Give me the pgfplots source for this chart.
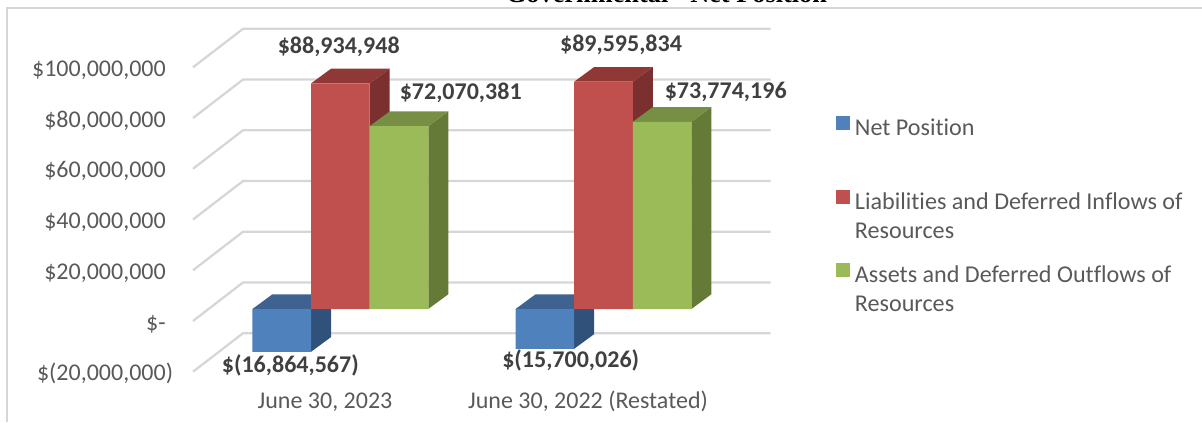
\documentclass[border=0pt]{standalone}
\usepackage{fontspec}
\setmainfont{Carlito}[Ligatures=NoCommon]
\newfontfamily\titlefont{Liberation Serif}
\usepackage{pgfplots}
\pgfplotsset{compat=1.18}
\definecolor{gridc}{HTML}{D6D6D6}
\definecolor{tickc}{HTML}{595959}
\definecolor{lblc}{HTML}{404040}
\definecolor{bluef}{HTML}{4F81BD}\definecolor{bluet}{HTML}{3E6390}\definecolor{blues}{HTML}{30527A}
\definecolor{redf}{HTML}{C0504D}\definecolor{redt}{HTML}{8F3836}\definecolor{reds}{HTML}{7B2F2E}
\definecolor{greenf}{HTML}{9BBB59}\definecolor{greent}{HTML}{768F44}\definecolor{greens}{HTML}{667A37}
\newcommand{\bigfont}{\fontsize{18}{21.75}\selectfont}
\pgfplotsset{
  page/.style={width=901.5pt,height=316.5pt,scale only axis,at={(0pt,0pt)},anchor=south west,
    xmin=0,xmax=1202,clip=false,scaled y ticks=false},
  face/.style={draw=none,fill=#1,forget plot,mark=none},
  bar3d/.style={ybar,bar width=58.6,bar shift=0pt,fill=#1,draw=none,
    legend image code/.code={\fill[#1] (0pt,-1.3pt) rectangle (10.5pt,9.2pt);}},
  gline/.style={draw=gridc,line width=1.7pt,mark=none,forget plot}
}
\begin{document}
\begin{tikzpicture}
\path[use as bounding box,clip] (0pt,0pt) rectangle (901.5pt,316.5pt);
% frame, wall grid and axis labels: y measured on the front edge of the floor
\begin{axis}[page,
  ymin=-39815000,ymax=126540000,
  axis line style={draw=none},tick style={draw=none},major tick length=0pt,
  tick label style={font=\bigfont,text=tickc},
  ytick pos=left,xtick pos=bottom,
  ytick={-20000000,0,20000000,40000000,60000000,80000000,100000000},
  yticklabels={{\$(20,000,000\rlap{)}},{\$-},{\$20,000,000},{\$40,000,000},{\$60,000,000},{\$80,000,000},{\$100,000,000}},
  yticklabel style={anchor=base east,xshift=124.5pt,yshift=-6.75pt,inner sep=0pt},
  xtick={325,588},
  xticklabels={{June 30, 2023},{June 30, 2022 (Restated)}},
  xticklabel style={anchor=base,yshift=10.3pt,inner sep=0pt},
  ]
\draw[gridc,line width=1.4pt] (axis cs:7,-39815000)--(axis cs:7,123390000)--(axis cs:1202,123390000);
\addplot[gline] coordinates {(193,-20000000)(243,-4820000)(770.7,-4820000)};
\addplot[gline] coordinates {(193,0)(243,15180000)(770.7,15180000)};
\addplot[gline] coordinates {(193,20000000)(243,35180000)(770.7,35180000)};
\addplot[gline] coordinates {(193,40000000)(243,55180000)(770.7,55180000)};
\addplot[gline] coordinates {(193,60000000)(243,75180000)(770.7,75180000)};
\addplot[gline] coordinates {(193,80000000)(243,95180000)(770.7,95180000)};
\addplot[gline] coordinates {(193,100000000)(243,115180000)(770.7,115180000)};
\node[font=\titlefont\bfseries\fontsize{19.75}{22}\selectfont,text=black,anchor=base,inner sep=0pt] at (axis cs:666.5,125400000) {Governmental - Net Position};
\end{axis}
% bars: y is the true dollar value on the plane of the bars' front faces
\begin{axis}[page,hide axis,
  ymin=-44546000,ymax=121810000,
  legend style={draw=none,fill=none,at={(836/1202,1-116/422)},anchor=north west,inner sep=0pt,outer sep=0pt,
    font=\fontsize{18.1}{21.75}\selectfont,text=tickc,/tikz/row sep=39pt,
    cells={anchor=base west},
    /tikz/column sep=0pt,
    nodes={inner sep=0pt,outer sep=0pt}},
  legend cell align=left,
  ]
% Net Position
\addplot[face=blues] coordinates {(311.05,0)(331.05,5800000)(331.05,-11064567)(311.05,-16864567)} --cycle;
\addplot[face=bluet] coordinates {(252.45,0)(311.05,0)(331.05,5800000)(272.45,5800000)} --cycle;
\addplot[face=blues] coordinates {(574.15,0)(594.15,5800000)(594.15,-9900026)(574.15,-15700026)} --cycle;
\addplot[face=bluet] coordinates {(515.55,0)(574.15,0)(594.15,5800000)(535.55,5800000)} --cycle;
\addplot[bar3d=bluef] coordinates {(281.75,-16864567)(544.85,-15700026)};
\addlegendentry{\parbox[t]{335pt}{\hspace{3.7pt}Net Position\\\mbox{}}}
% Liabilities and Deferred Inflows of Resources
\addplot[face=reds] coordinates {(369.65,0)(389.65,5800000)(389.65,94734948)(369.65,88934948)} --cycle;
\addplot[face=redt] coordinates {(311.05,88934948)(369.65,88934948)(389.65,94734948)(331.05,94734948)} --cycle;
\addplot[face=reds] coordinates {(632.75,0)(652.75,5800000)(652.75,95395834)(632.75,89595834)} --cycle;
\addplot[face=redt] coordinates {(574.15,89595834)(632.75,89595834)(652.75,95395834)(594.15,95395834)} --cycle;
\addplot[bar3d=redf] coordinates {(340.35,88934948)(603.45,89595834)};
\addlegendentry{\parbox[t]{335pt}{\hspace{3.7pt}Liabilities and Deferred Inflows of\\\hspace*{3.7pt}Resources}}
% Assets and Deferred Outflows of Resources
\addplot[face=greens] coordinates {(428.25,0)(448.25,5800000)(448.25,77870381)(428.25,72070381)} --cycle;
\addplot[face=greent] coordinates {(369.65,72070381)(428.25,72070381)(448.25,77870381)(389.65,77870381)} --cycle;
\addplot[face=greens] coordinates {(691.35,0)(711.35,5800000)(711.35,79574196)(691.35,73774196)} --cycle;
\addplot[face=greent] coordinates {(632.75,73774196)(691.35,73774196)(711.35,79574196)(652.75,79574196)} --cycle;
\addplot[bar3d=greenf] coordinates {(398.95,72070381)(662.05,73774196)};
\addlegendentry{\parbox[t]{335pt}{\hspace{3.7pt}Assets and Deferred Outflows of\\\hspace*{3.7pt}Resources}}
% data labels
\begin{scope}[every node/.style={font=\bigfont\bfseries,text=lblc,inner sep=0pt}]
\node at (axis cs:338.7,103400000) {\$88,934,948};
\node at (axis cs:460.7,85300000) {\$72,070,381};
\node at (axis cs:621,104100000) {\$89,595,834};
\node at (axis cs:725.7,85700000) {\$73,774,196};
\node at (axis cs:290.3,-22080000) {\$(16,864,567)};
\node at (axis cs:570.7,-20380000) {\$(15,700,026)};
\end{scope}
\end{axis}
\end{tikzpicture}
\end{document}
